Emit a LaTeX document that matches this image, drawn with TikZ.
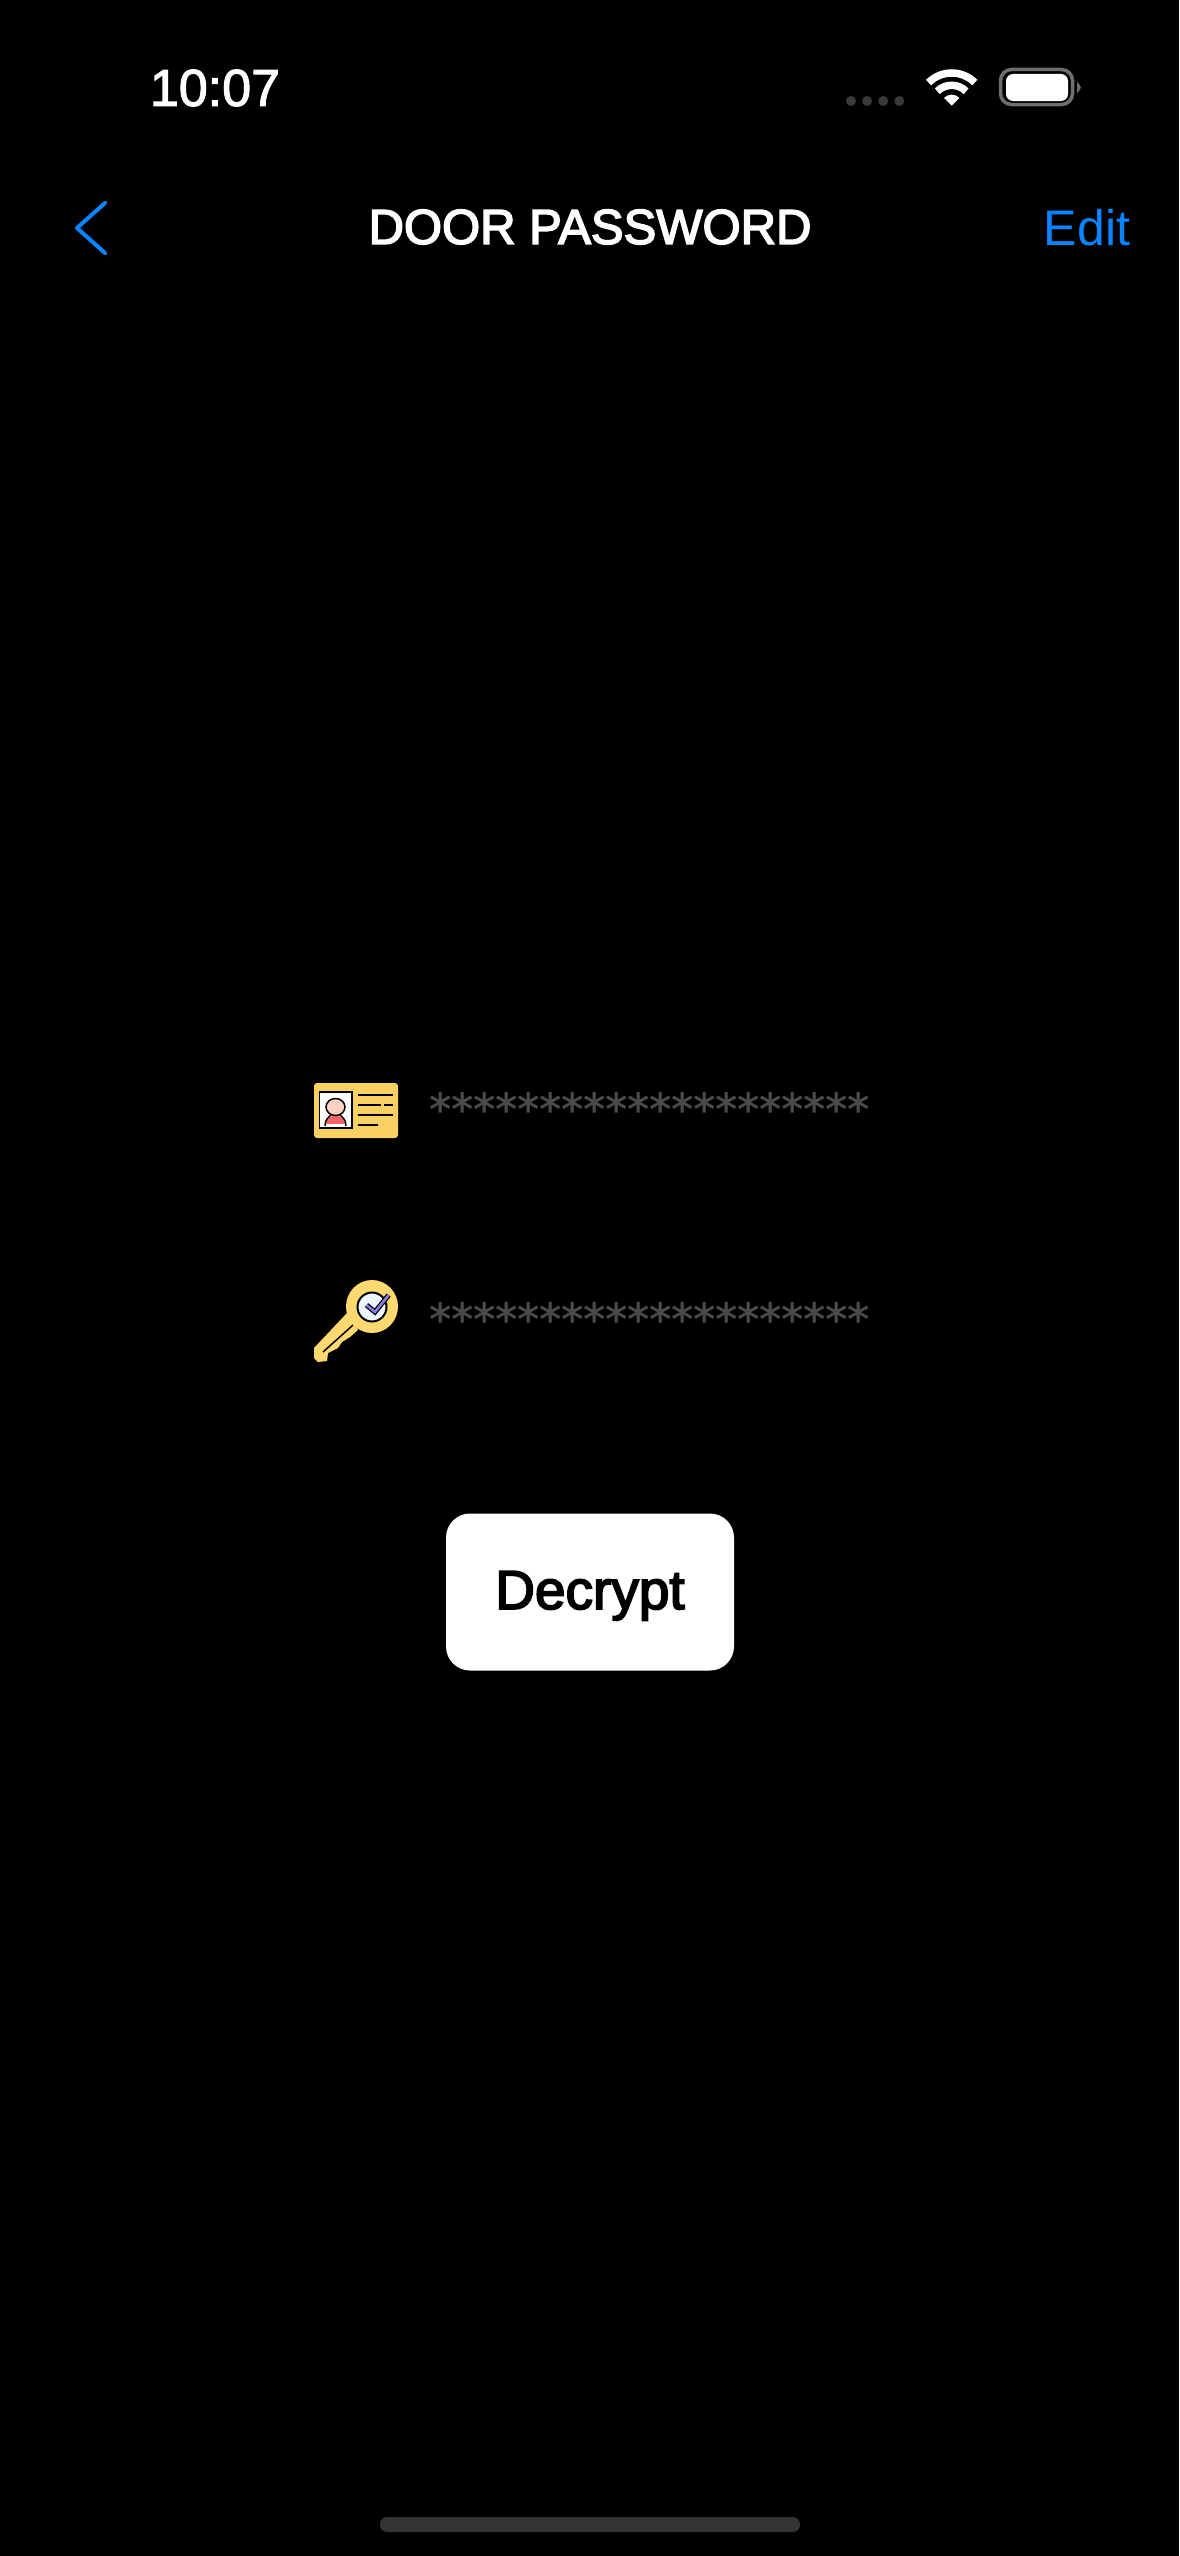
\documentclass[tikz,border=0pt]{standalone}
\usepackage{fontspec}
\usetikzlibrary{positioning}
\setmainfont{Liberation Sans}
\newfontfamily\mediumfont[FakeBold=2]{Liberation Sans}
\newfontfamily\heavyfont[FakeBold=3.2]{Liberation Sans}
\newfontfamily\starfont[FakeBold=1.2]{DejaVu Sans}
\definecolor{screenBlack}{HTML}{000000}
\definecolor{linkBlue}{HTML}{0A84FF}
\definecolor{starGray}{HTML}{4A4A4A}
\definecolor{dotGray}{HTML}{3A3A3A}
\definecolor{barGray}{HTML}{333333}
\definecolor{rimGray}{HTML}{6E6E6E}
\definecolor{cardYellow}{HTML}{F8D162}
\definecolor{keyYellow}{HTML}{FFD970}
\definecolor{skinPink}{HTML}{FFD2C4}
\definecolor{shirtRed}{HTML}{FA6464}
\definecolor{checkViolet}{HTML}{8A80E8}
\definecolor{faceWhite}{HTML}{EEF6FF}
\tikzset{
    plain/.style={inner sep=0pt,text=white},
    stars/.style={inner sep=0pt,text=starGray,anchor=west,font=\starfont\fontsize{44}{44}\selectfont},
    iconline/.style={draw=black,line width=2pt},
    sigdot/.style={circle,fill=dotGray,inner sep=0pt,minimum size=10pt},
    arcwifi/.style={draw=white,line width=7.5pt}
}
\begin{document}
\begin{tikzpicture}[x=1pt,y=-1pt]
    \fill[screenBlack] (0,0) rectangle (1179,2556);
    \useasboundingbox (0,0) rectangle (1179,2556);
    % status bar
    \node[plain,font=\mediumfont\fontsize{52}{52}\selectfont] (clock) at (215,88) {10:07};
    \node[sigdot] (dotA) at (851,101) {};
    \node[sigdot,right=5.7pt of dotA] (dotB) {};
    \node[sigdot,right=5.7pt of dotB] (dotC) {};
    \node[sigdot,right=5.7pt of dotC] (dotD) {};
    \coordinate (wifiTip) at (951.7,105.7);
    \fill[white] (wifiTip) -- ++(225:11) arc[start angle=225,end angle=315,radius=11] -- cycle;
    \draw[arcwifi] (wifiTip) ++(225:20.4) arc[start angle=225,end angle=315,radius=20.4];
    \draw[arcwifi] (wifiTip) ++(225:32.7) arc[start angle=225,end angle=315,radius=32.7];
    \draw[draw=rimGray,line width=3.5pt,rounded corners=11pt] (1000.5,69.5) rectangle (1072.5,104.5);
    \fill[white,rounded corners=7pt] (1006,74) rectangle (1068,101);
    \fill[rimGray] (1077,82) -- (1079,84) -- (1081,87.5) -- (1079,91) -- (1077,93) -- cycle;
    % navigation bar
    \coordinate (backTop) at (105,203);
    \coordinate (backTip) at (77,228);
    \coordinate (backEnd) at (105,253);
    \draw[draw=linkBlue,line width=4pt,line cap=round,line join=round] (backTop) -- (backTip) -- (backEnd);
    \node[plain,font=\heavyfont\fontsize{49}{49}\selectfont] (title) at (590,227) {DOOR PASSWORD};
    \node[plain,text=linkBlue,font=\fontsize{50}{50}\selectfont] (edit) at (1087,228) {Edit};
    % id card
    \fill[cardYellow,rounded corners=3pt] (314,1083) rectangle (398,1138);
    \draw[fill=white,line width=1.5pt] (319.5,1092) rectangle (352,1128);
    \fill[shirtRed] (326,1124) .. controls (326,1113) and (345,1113) .. (345,1124) -- cycle;
    \draw[line width=1.5pt] (325,1126) .. controls (325,1119) and (329,1117) .. (332,1114);
    \draw[line width=1.5pt] (346,1126) .. controls (346,1119) and (342,1117) .. (339,1114);
    \draw[fill=skinPink,line width=1.5pt] (335.5,1107) ellipse[x radius=9.5,y radius=8.5];
    \draw[iconline] (358,1095) -- (393,1095);
    \draw[iconline] (358,1105) -- (381,1105);
    \draw[iconline] (384,1105) -- (393,1105);
    \draw[iconline] (358,1115) -- (393,1115);
    \draw[iconline] (358,1125) -- (378,1125);
    % key
    \fill[keyYellow] (347,1313) -- (314,1348) -- (314,1358) -- (318,1362) -- (327,1361) -- (328,1353) -- (338,1348) -- (342,1342) -- (350,1337) -- (358,1330) -- cycle;
    \draw[line width=1.5pt] (353,1325) -- (323,1352);
    \fill[keyYellow] (372,1306.5) ellipse[x radius=26,y radius=26.5];
    \draw[fill=faceWhite,line width=2pt] (372,1307) circle[radius=14.5];
    \draw[draw=black,line width=5pt] (366.5,1305) -- (375,1312) -- (388.7,1295);
    \draw[draw=checkViolet,line width=2.5pt] (366.5,1305) -- (375,1312) -- (388.7,1295);
    % fields
    \node[stars] (cardStars) at (429,1108.5) {********************};
    \node[stars] (keyStars) at (429,1318.5) {********************};
    % button
    \node[fill=white,rounded corners=24pt,minimum width=288pt,minimum height=157pt,inner sep=0pt,text=black,font=\heavyfont\fontsize{55}{55}\selectfont] (decrypt) at (590,1592) {\raisebox{0pt}[40pt][6pt]{Decrypt}};
    % home bar
    \fill[barGray,rounded corners=7pt] (380,2517) rectangle (800,2532);
\end{tikzpicture}
\end{document}
